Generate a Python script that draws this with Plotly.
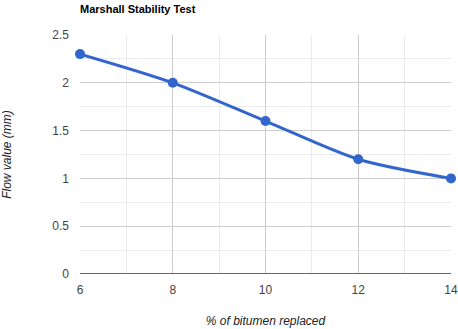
import plotly.graph_objects as go

x_vals = [6, 8, 10, 12, 14]
flow = [2.3, 2.0, 1.6, 1.2, 1.0]
x_ticks = [6, 8, 10, 12, 14]
y_ticks = [0, 0.5, 1, 1.5, 2, 2.5]
y_tick_text = ["0", "0.5", "1", "1.5", "2", "2.5"]

fig = go.Figure()
fig.add_trace(go.Scatter(
    x=x_vals, y=flow, mode="lines+markers",
    line=dict(color="#3366CC", width=3, shape="spline", smoothing=0.8),
    marker=dict(color="#3366CC", size=10),
    showlegend=False,
    cliponaxis=False,
))

fig.update_layout(
    width=458, height=329,
    margin=dict(l=80, r=7, t=35, b=55),
    paper_bgcolor="white", plot_bgcolor="white",
    font=dict(family="Arial, Liberation Sans", size=12, color="#444444"),
    title=dict(text="<b>Marshall Stability Test</b>", x=80/458, xanchor="left",
               y=1-9/329, yanchor="middle",
               font=dict(family="Arial, Liberation Sans", size=11, color="#000000")),
    xaxis=dict(
        range=[6, 14], tickvals=x_ticks, ticktext=[str(v) for v in x_ticks],
        showgrid=True, gridcolor="#cccccc", gridwidth=1,
        minor=dict(dtick=1, showgrid=True, gridcolor="#ebebeb"),
        zeroline=False, showline=False, ticks="", automargin=False,
        ticklabelstandoff=7,
        title=dict(text="<i>% of bitumen replaced</i>", standoff=20,
                   font=dict(size=12, color="#222222")),
    ),
    yaxis=dict(
        range=[0, 2.5], tickvals=y_ticks, ticktext=y_tick_text,
        showgrid=True, gridcolor="#cccccc", gridwidth=1,
        minor=dict(dtick=0.25, showgrid=True, gridcolor="#ebebeb"),
        zeroline=False, showline=False, ticks="", ticklabelstandoff=10,
        automargin=False,
        title=dict(text="<i>Flow value (mm)</i>", standoff=38,
                   font=dict(size=12, color="#222222")),
    ),
    shapes=[dict(type="line", xref="paper", yref="y", x0=0, x1=1, y0=0, y1=0,
                 line=dict(color="#333333", width=1.5))],
)

fig.write_html("out.html")
